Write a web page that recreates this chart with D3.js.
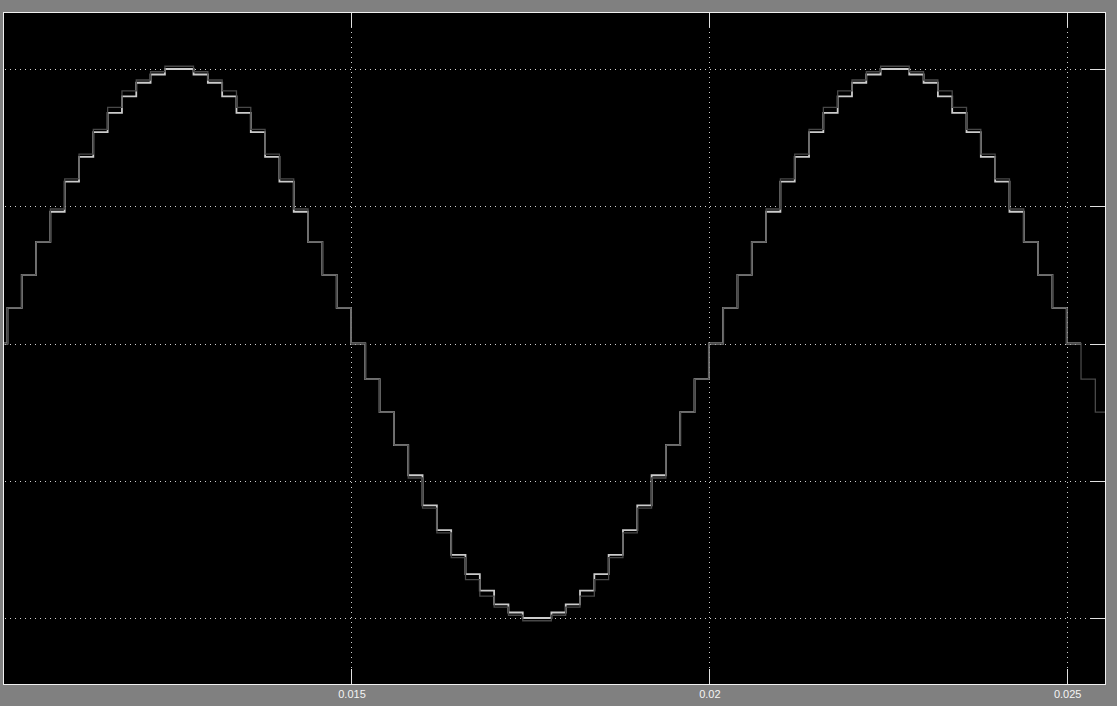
<!DOCTYPE html>
<html>
<head>
<meta charset="utf-8">
<script src="https://cdn.jsdelivr.net/npm/d3@7"></script>
<style>
  body { margin: 0; background: #808080; }
  svg { display: block; }
</style>
</head>
<body>
<svg id="chart" width="1117" height="706"></svg>
<script>
// sample time of the zero-order hold, first sample at t0
const t0 = 0.0100;
const dt = 0.0002;

// light trace (held samples, ends at 0.0252)
const lightVals = [
  0, 0.13, 0.25, 0.37, 0.48, 0.59, 0.68, 0.77, 0.84, 0.90, 0.95, 0.98, 1.00,
  1.00, 0.98, 0.95, 0.90, 0.84, 0.77, 0.68, 0.59, 0.48, 0.37, 0.25, 0.13,
  0, -0.13, -0.25, -0.37, -0.48, -0.59, -0.68, -0.77, -0.84, -0.90, -0.95, -0.98, -1.00,
  -1.00, -0.98, -0.95, -0.90, -0.84, -0.77, -0.68, -0.59, -0.48, -0.37, -0.25, -0.13,
  0, 0.13, 0.25, 0.37, 0.48, 0.59, 0.68, 0.77, 0.84, 0.90, 0.95, 0.98, 1.00,
  1.00, 0.98, 0.95, 0.90, 0.84, 0.77, 0.68, 0.59, 0.48, 0.37, 0.25, 0.13,
  0
];
const lightEnd = 0.0252;

// dark trace (slightly larger amplitude, runs to the right edge)
const darkVals = [
  0, 0.13, 0.25, 0.37, 0.49, 0.60, 0.69, 0.78, 0.86, 0.92, 0.96, 0.99, 1.01,
  1.01, 0.99, 0.96, 0.92, 0.86, 0.78, 0.69, 0.60, 0.49, 0.37, 0.25, 0.13,
  0, -0.13, -0.25, -0.37, -0.49, -0.60, -0.69, -0.78, -0.86, -0.92, -0.96, -0.99, -1.01,
  -1.01, -0.99, -0.96, -0.92, -0.86, -0.78, -0.69, -0.60, -0.49, -0.37, -0.25, -0.13,
  0, 0.13, 0.25, 0.37, 0.49, 0.60, 0.69, 0.78, 0.86, 0.92, 0.96, 0.99, 1.01,
  1.01, 0.99, 0.96, 0.92, 0.86, 0.78, 0.69, 0.60, 0.49, 0.37, 0.25, 0.13,
  0, -0.13, -0.25
];

const xTicks = [0.015, 0.02, 0.025];
const xTickLabels = ['0.015', '0.02', '0.025'];
const yTicks = [-1, -0.5, 0, 0.5, 1];

const svg = d3.select('#chart');
const plotL = 3, plotR = 1105.5, plotT = 12, plotB = 684;

const x = d3.scaleLinear().domain([0.010138, 0.025542]).range([plotL, plotR]);
const y = d3.scaleLinear().domain([-1.2404, 1.2077]).range([plotB, plotT]);

svg.append('rect').attr('width', 1117).attr('height', 706).attr('fill', '#808080');
svg.append('rect')
  .attr('x', plotL).attr('y', plotT)
  .attr('width', plotR - plotL).attr('height', plotB - plotT)
  .attr('fill', '#000');

svg.append('clipPath').attr('id', 'clip')
  .append('rect')
  .attr('x', plotL).attr('y', plotT)
  .attr('width', plotR - plotL).attr('height', plotB - plotT);

const px = v => Math.round(v) + 0.5;

// dotted grid
const grid = svg.append('g').attr('stroke', '#d0d0d0').attr('stroke-width', 1)
  .attr('stroke-dasharray', '1,4').attr('shape-rendering', 'crispEdges');
grid.selectAll('.gx').data(xTicks).enter().append('line')
  .attr('x1', d => px(x(d))).attr('x2', d => px(x(d)))
  .attr('y1', plotT).attr('y2', plotB);
grid.selectAll('.gy').data(yTicks).enter().append('line')
  .attr('y1', d => px(y(d))).attr('y2', d => px(y(d)))
  .attr('x1', plotL + 2).attr('x2', plotR);

// solid tick marks on top, bottom and right
const ticks = svg.append('g').attr('stroke', '#e0e0e0').attr('stroke-width', 1)
  .attr('shape-rendering', 'crispEdges');
ticks.selectAll('.tb').data(xTicks).enter().append('line')
  .attr('x1', d => px(x(d))).attr('x2', d => px(x(d)))
  .attr('y1', plotB - 15).attr('y2', plotB);
ticks.selectAll('.tt').data(xTicks).enter().append('line')
  .attr('x1', d => px(x(d))).attr('x2', d => px(x(d)))
  .attr('y1', plotT).attr('y2', plotT + 15);
ticks.selectAll('.tr').data(yTicks).enter().append('line')
  .attr('y1', d => px(y(d))).attr('y2', d => px(y(d)))
  .attr('x1', plotR - 16).attr('x2', plotR);

// traces
const line = d3.line()
  .x(d => x(d.t)).y(d => y(d.v))
  .curve(d3.curveStepAfter);

const darkData = darkVals.map((v, i) => ({ t: t0 + i * dt, v: v }));
darkData.push({ t: x.domain()[1] + dt, v: darkVals[darkVals.length - 1] });
const lightData = lightVals.map((v, i) => ({ t: t0 + i * dt, v: v }));
lightData.push({ t: lightEnd, v: lightVals[lightVals.length - 1] });

const traces = svg.append('g').attr('clip-path', 'url(#clip)');
traces.append('path').datum(lightData)
  .attr('d', line).attr('fill', 'none')
  .attr('stroke', '#cccccc').attr('stroke-width', 1.8);
traces.append('path').datum(darkData)
  .attr('d', line).attr('fill', 'none')
  .attr('stroke', '#484848').attr('stroke-width', 1.3);

// frame
svg.append('rect')
  .attr('x', plotL + 0.5).attr('y', plotT + 0.5)
  .attr('width', plotR - plotL - 1).attr('height', plotB - plotT)
  .attr('fill', 'none').attr('stroke', '#f0f0f0').attr('stroke-width', 1)
  .attr('shape-rendering', 'crispEdges');

// x tick labels
svg.append('g')
  .selectAll('text').data(xTicks).enter().append('text')
  .attr('x', d => x(d) + 1).attr('y', 698)
  .attr('text-anchor', 'middle')
  .attr('fill', '#f4f4f4')
  .style('font-family', '"Liberation Sans", Arial, sans-serif')
  .style('font-size', '11px')
  .text((d, i) => xTickLabels[i]);
</script>
</body>
</html>
